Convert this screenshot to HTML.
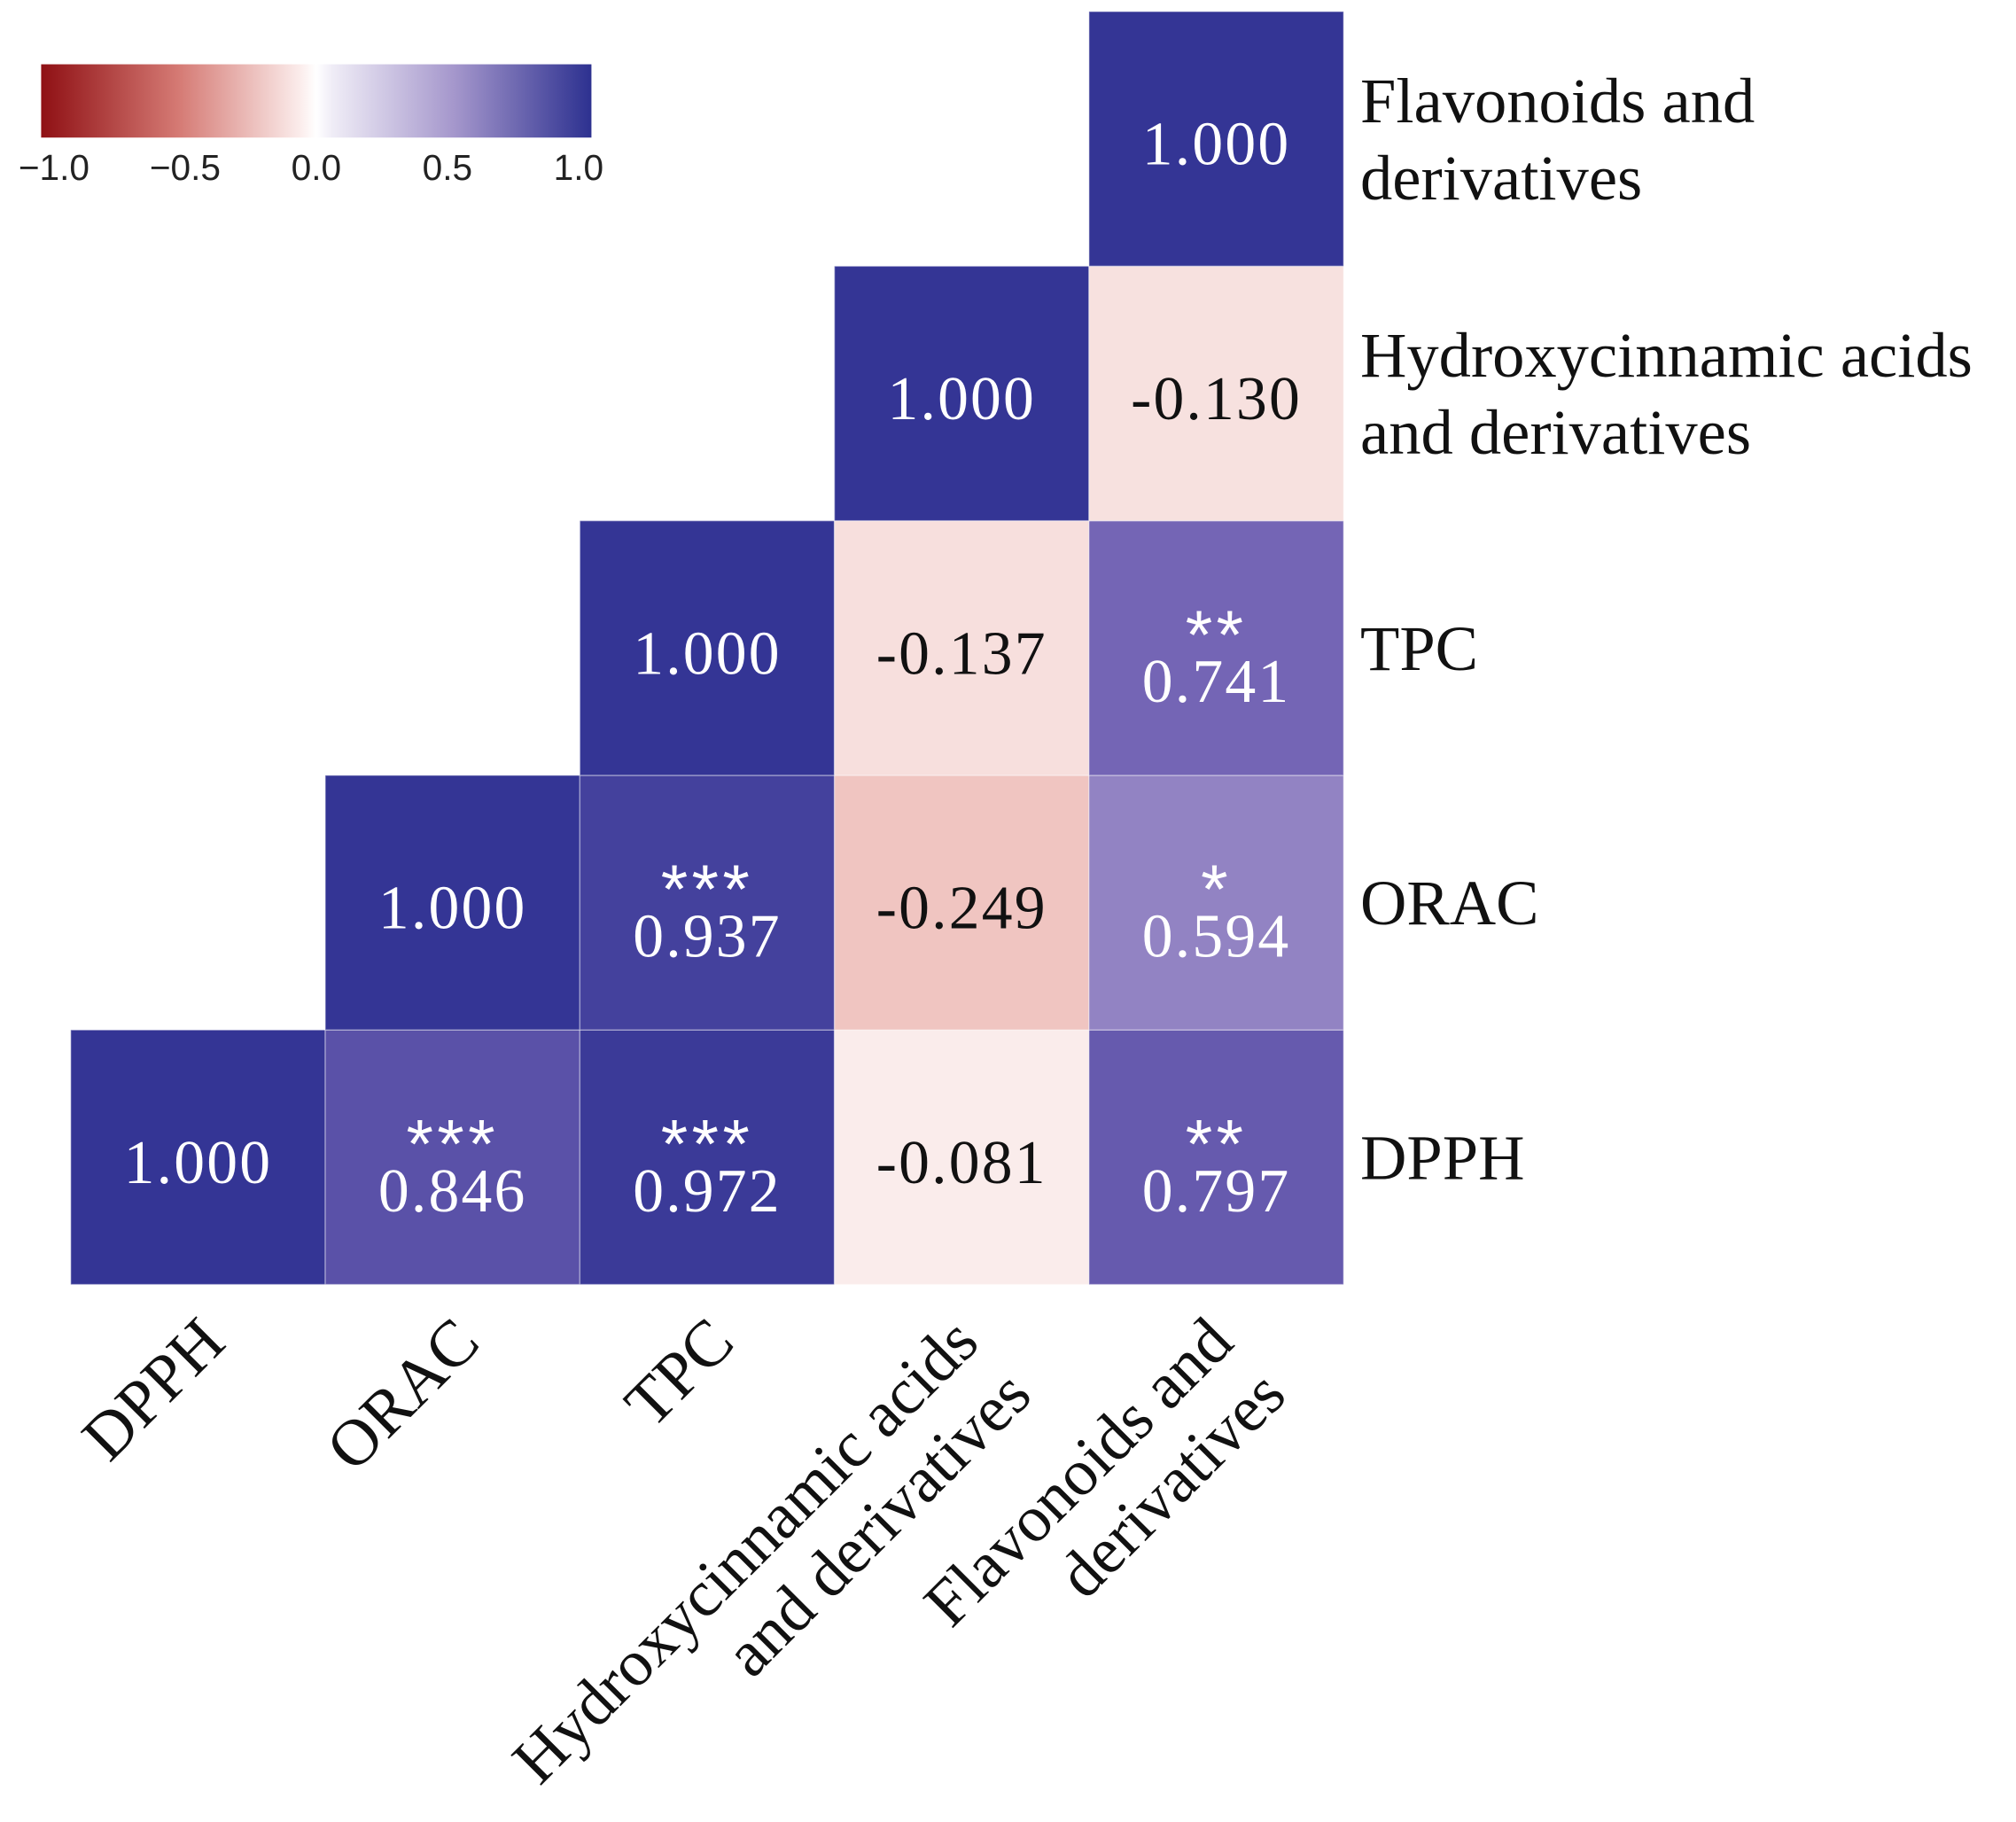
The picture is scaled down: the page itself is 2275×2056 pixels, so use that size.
<!DOCTYPE html>
<html><head><meta charset="utf-8"><style>
html,body{margin:0;padding:0;background:#fff}
svg{display:block}
</style></head><body>
<svg id="chart" width="2275" height="2056" viewBox="0 0 1568 1417" preserveAspectRatio="none" xmlns="http://www.w3.org/2000/svg">
<defs>
<linearGradient id="lg" x1="0" x2="1" y1="0" y2="0">
<stop offset="0" stop-color="#8f1014"/><stop offset="0.25" stop-color="#d57a74"/><stop offset="0.47" stop-color="#fbeceb"/><stop offset="0.5" stop-color="#ffffff"/><stop offset="0.53" stop-color="#efecf6"/><stop offset="0.75" stop-color="#a597cc"/><stop offset="1" stop-color="#2d3190"/>
</linearGradient>
</defs>
<g>
<rect x="32" y="50" width="428" height="57" fill="url(#lg)"/>
<g id="legendTicks" font-family="Liberation Sans, sans-serif" font-size="28" fill="#222" text-anchor="middle"></g>
</g>
<g id="cells"></g>
<g id="rowlabels" font-family="Liberation Serif, serif" font-size="50" fill="#111"></g>
<g id="collabels" font-family="Liberation Serif, serif" font-size="51" fill="#111"></g>
</svg>
<script>
const variables = ["DPPH","ORAC","TPC","Hydroxycinnamic acids and derivatives","Flavonoids and derivatives"];
const labelLines = [["DPPH"],["ORAC"],["TPC"],["Hydroxycinnamic acids","and derivatives"],["Flavonoids and","derivatives"]];
const corrDPPH = [1.000, 0.846, 0.972, -0.081, 0.797];
const corrORAC = [0.846, 1.000, 0.937, -0.249, 0.594];
const corrTPC = [0.972, 0.937, 1.000, -0.137, 0.741];
const corrHCA = [-0.081, -0.249, -0.137, 1.000, -0.130];
const corrFLA = [0.797, 0.594, 0.741, -0.130, 1.000];
const sigDPPH = ["", "***", "***", "", "**"];
const sigORAC = ["***", "", "***", "", "*"];
const sigTPC = ["***", "***", "", "", "**"];
const sigHCA = ["", "", "", "", ""];
const sigFLA = ["**", "*", "**", "", ""];
const legendTicks = [-1.0, -0.5, 0.0, 0.5, 1.0];
const legendTickLabels = ["\u22121.0","\u22120.5","0.0","0.5","1.0"];

const corr = [corrDPPH, corrORAC, corrTPC, corrHCA, corrFLA];
const sig = [sigDPPH, sigORAC, sigTPC, sigHCA, sigFLA];
const NS = "http://www.w3.org/2000/svg";
const gx0 = 55, gy1 = 999, cs = 198;
const n = variables.length;
function xCol(j){ return gx0 + j*cs; }
function yRow(i){ return gy1 - (i+1)*cs; }
function lx(v){ return 42 + (v+1)/2*408; }
const posStops = [[0,[255,255,255]],[0.25,[220,213,236]],[0.5,[165,151,204]],[0.75,[114,99,180]],[1,[52,53,149]]];
const negStops = [[0,[255,255,255]],[0.25,[240,197,193]],[0.5,[224,160,154]],[1,[143,16,20]]];
function interp(stops,t){
  for(let k=1;k<stops.length;k++){
    if(t<=stops[k][0]){
      const a=stops[k-1],b=stops[k],f=(t-a[0])/(b[0]-a[0]);
      return a[1].map((c,i)=>Math.round(c+(b[1][i]-c)*f));
    }
  }
  return stops[stops.length-1][1];
}
function color(v){
  const c = v>=0 ? interp(posStops,v) : interp(negStops,-v);
  return `rgb(${c[0]},${c[1]},${c[2]})`;
}
const lt = document.getElementById('legendTicks');
legendTicks.forEach((v,k)=>{
  const t=document.createElementNS(NS,'text');
  
  
  t.setAttribute('x',lx(v)); t.setAttribute('y',140); t.textContent=legendTickLabels[k];
  lt.appendChild(t);
});
const cells = document.getElementById('cells');
for(let r=0;r<n;r++){
  for(let c=r;c<n;c++){
    const v = corr[r][c];
    const x = xCol(c), y = yRow(r);
    const g=document.createElementNS(NS,'g');
    
    
    const rect=document.createElementNS(NS,'rect');
    
    
    rect.setAttribute('x',x); rect.setAttribute('y',y); rect.setAttribute('width',cs); rect.setAttribute('height',cs);
    rect.setAttribute('fill',color(v)); rect.setAttribute('stroke','rgba(255,255,255,0.35)'); rect.setAttribute('stroke-width','1');
    g.appendChild(rect);
    const txtCol = v>0.3 ? '#fff' : '#111';
    const s = sig[r][c];
    const cx = x+cs/2, cy = y+cs/2;
    const t=document.createElementNS(NS,'text');
    
    
    t.setAttribute('x',cx); t.setAttribute('text-anchor','middle');
    t.setAttribute('font-family','Liberation Serif, serif'); t.setAttribute('font-size','48'); t.setAttribute('fill',txtCol);
    t.setAttribute('letter-spacing','1.5');
    t.setAttribute('y', s ? cy+42 : cy+20);
    t.textContent = v.toFixed(3);
    g.appendChild(t);
    if(s){
      const st=document.createElementNS(NS,'text');
      
      
      st.setAttribute('x',cx); st.setAttribute('y',cy+8); st.setAttribute('text-anchor','middle');
      st.setAttribute('font-family','Liberation Sans, sans-serif'); st.setAttribute('font-size','54'); st.setAttribute('fill','#fff');
      st.setAttribute('letter-spacing','3');
      st.textContent=s;
      g.appendChild(st);
    }
    cells.appendChild(g);
  }
}
const rl = document.getElementById('rowlabels');
for(let r=0;r<n;r++){
  const lines = labelLines[r];
  const cy = yRow(r)+cs/2;
  lines.forEach((ln,k)=>{
    const t=document.createElementNS(NS,'text');
    
    
    t.setAttribute('x', 1058);
    t.setAttribute('y', cy + 17 + (k - (lines.length-1)/2)*60);
    t.textContent=ln;
    rl.appendChild(t);
  });
}
const cl = document.getElementById('collabels');
for(let c=0;c<n;c++){
  const lines = labelLines[c];
  const g=document.createElementNS(NS,'g');
  
  
  const ax = xCol(c)+cs/2 + (lines.length>1 ? -6 : 2);
  g.setAttribute('transform',`translate(${ax},1025) rotate(-45)`);
  lines.forEach((ln,k)=>{
    const t=document.createElementNS(NS,'text');
    
    
    t.setAttribute('x',0); t.setAttribute('y', 30 + k*58);
    t.setAttribute('text-anchor','end');
    t.textContent=ln;
    g.appendChild(t);
  });
  cl.appendChild(g);
}
</script>
</body></html>
